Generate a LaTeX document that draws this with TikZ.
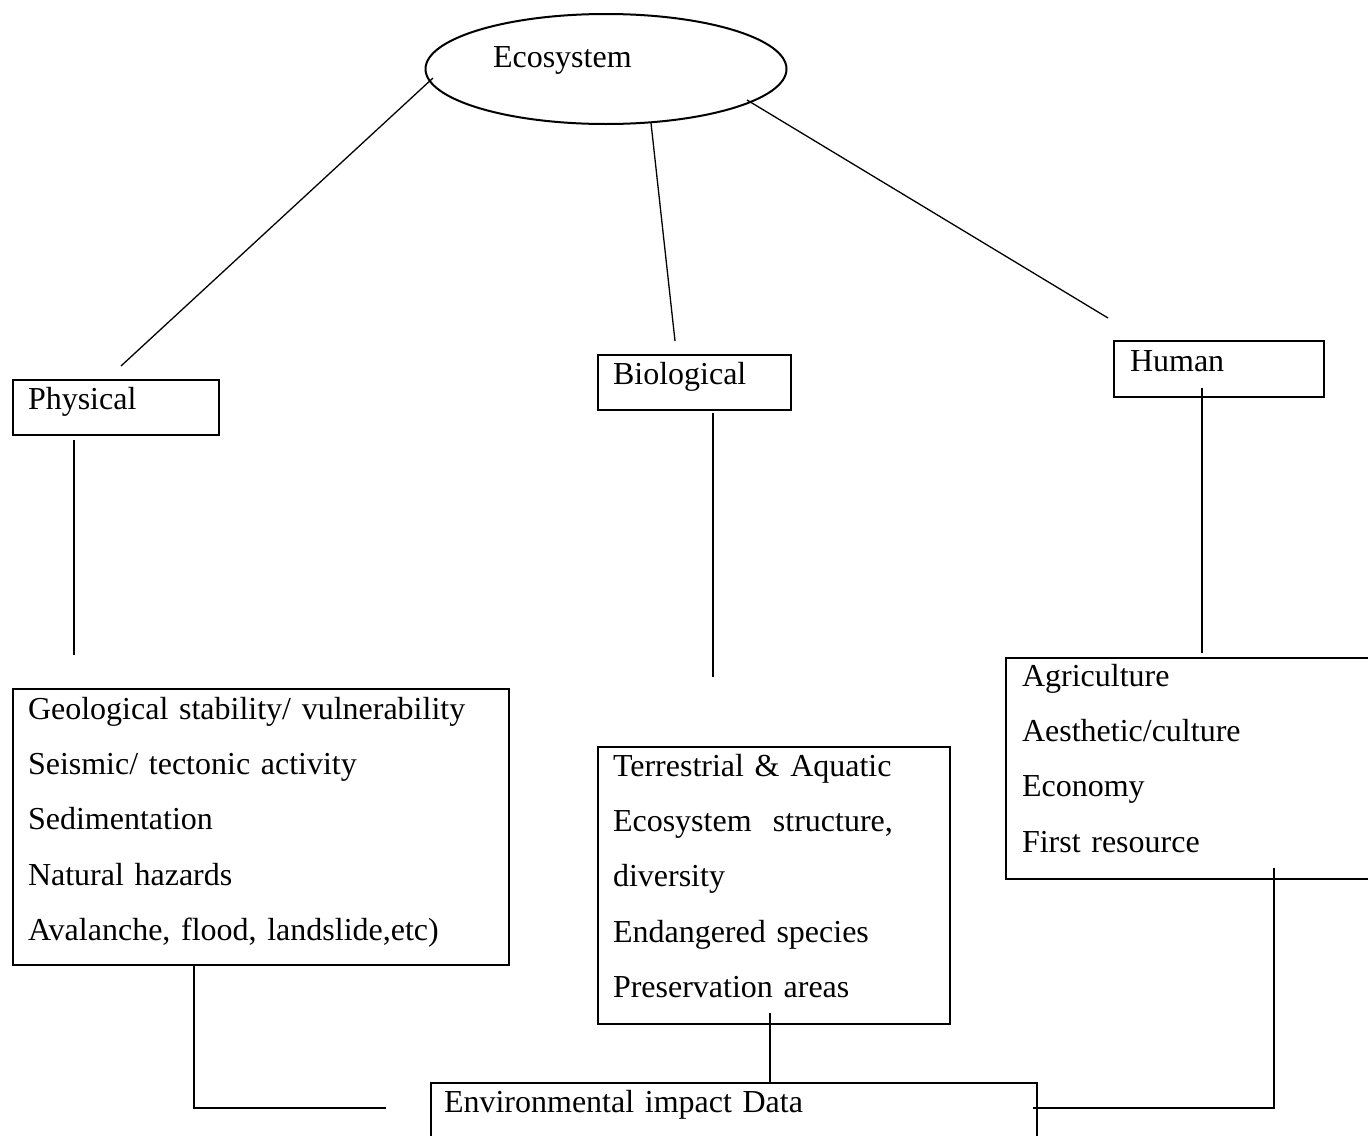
\documentclass[tikz,border=0pt]{standalone}
\usepackage{fontspec}
\setmainfont{Liberation Serif}
\usetikzlibrary{positioning,shapes.geometric}

\tikzset{
	box/.style={draw, line width=1pt, anchor=north west, inner ysep=0pt, align=left,
		font=\fontsize{16}{27.7}\selectfont},
	link/.style={line width=0.65pt},
}

\begin{document}
\begin{tikzpicture}[x=0.5pt, y=-0.5pt]
	\useasboundingbox (0,0) rectangle (1368,1135);
	\clip (0,0) rectangle (1368,1135);
	% top
	\node[ellipse, draw, line width=1pt, inner sep=0pt, minimum width=180.5pt, minimum height=55pt,
		text width=113pt, text height=10pt, text depth=12pt, align=left,
		font=\fontsize{16}{27.7}\selectfont] (eco) at (606,69) {Ecosystem};
	% second row
	\node[box, inner xsep=7.5pt, text width=88pt, text height=14.5pt, text depth=13pt] (phys) at (12,379) {Physical};
	\node[box, inner xsep=7.5pt, text width=81.5pt, text height=14.5pt, text depth=13pt] (bio) at (597,354) {Biological};
	\node[box, inner xsep=8pt, text width=89pt, text height=15pt, text depth=13pt] (hum) at (1113,340) {Human};
	% third row
	\node[box, inner xsep=7.5pt, text width=233pt, text height=15pt, text depth=123pt] (geo) at (12,688)
		{Geological stability/ vulnerability\\ Seismic/ tectonic activity\\ Sedimentation\\ Natural hazards\\ Avalanche, flood, landslide,etc)};
	\node[box, inner xsep=7.5pt, text width=161pt, text height=14.5pt, text depth=124pt] (ter) at (597,746)
		{Terrestrial \& Aquatic\\ Ecosystem\ \ structure,\\ diversity\\ Endangered species\\ Preservation areas};
	\node[box, inner xsep=8pt, text width=181.5pt, text height=14pt, text depth=96.5pt] (agri) at (1005,657)
		{Agriculture\\ Aesthetic/culture\\ Economy\\ First resource};
	% bottom
	\node[box, inner xsep=6.5pt, text width=290pt, text height=14.5pt, text depth=40pt] (env) at (430,1082)
		{Environmental impact Data};

	% loose line ends
	\coordinate (eco-p) at (433,78);
	\coordinate (phys-t) at (121,366);
	\coordinate (eco-b) at (651,123);
	\coordinate (bio-t) at (675,341);
	\coordinate (eco-h) at (747,100);
	\coordinate (hum-t) at (1108,318);
	\coordinate (phys-b) at (74,440);
	\coordinate (geo-t) at (74,655);
	\coordinate (bio-b) at (713,413);
	\coordinate (ter-t) at (713,677);
	\coordinate (hum-b) at (1202,388);
	\coordinate (agri-t) at (1202,653);
	\coordinate (geo-b) at (194,964);
	\coordinate (env-l) at (386,1108);
	\coordinate (ter-b) at (770,1013);
	\coordinate (env-t) at (770,1082);
	\coordinate (agri-b) at (1274,868);
	\coordinate (env-r) at (1033,1108);

	\draw[link] (eco-p) -- (phys-t);
	\draw[link] (eco-b) -- (bio-t);
	\draw[link] (eco-h) -- (hum-t);
	\draw[link] (phys-b) -- (geo-t);
	\draw[link] (bio-b) -- (ter-t);
	\draw[link] (hum-b) -- (agri-t);
	\draw[link] (geo-b) |- (env-l);
	\draw[link] (ter-b) -- (env-t);
	\draw[link] (agri-b) |- (env-r);
\end{tikzpicture}
\end{document}
